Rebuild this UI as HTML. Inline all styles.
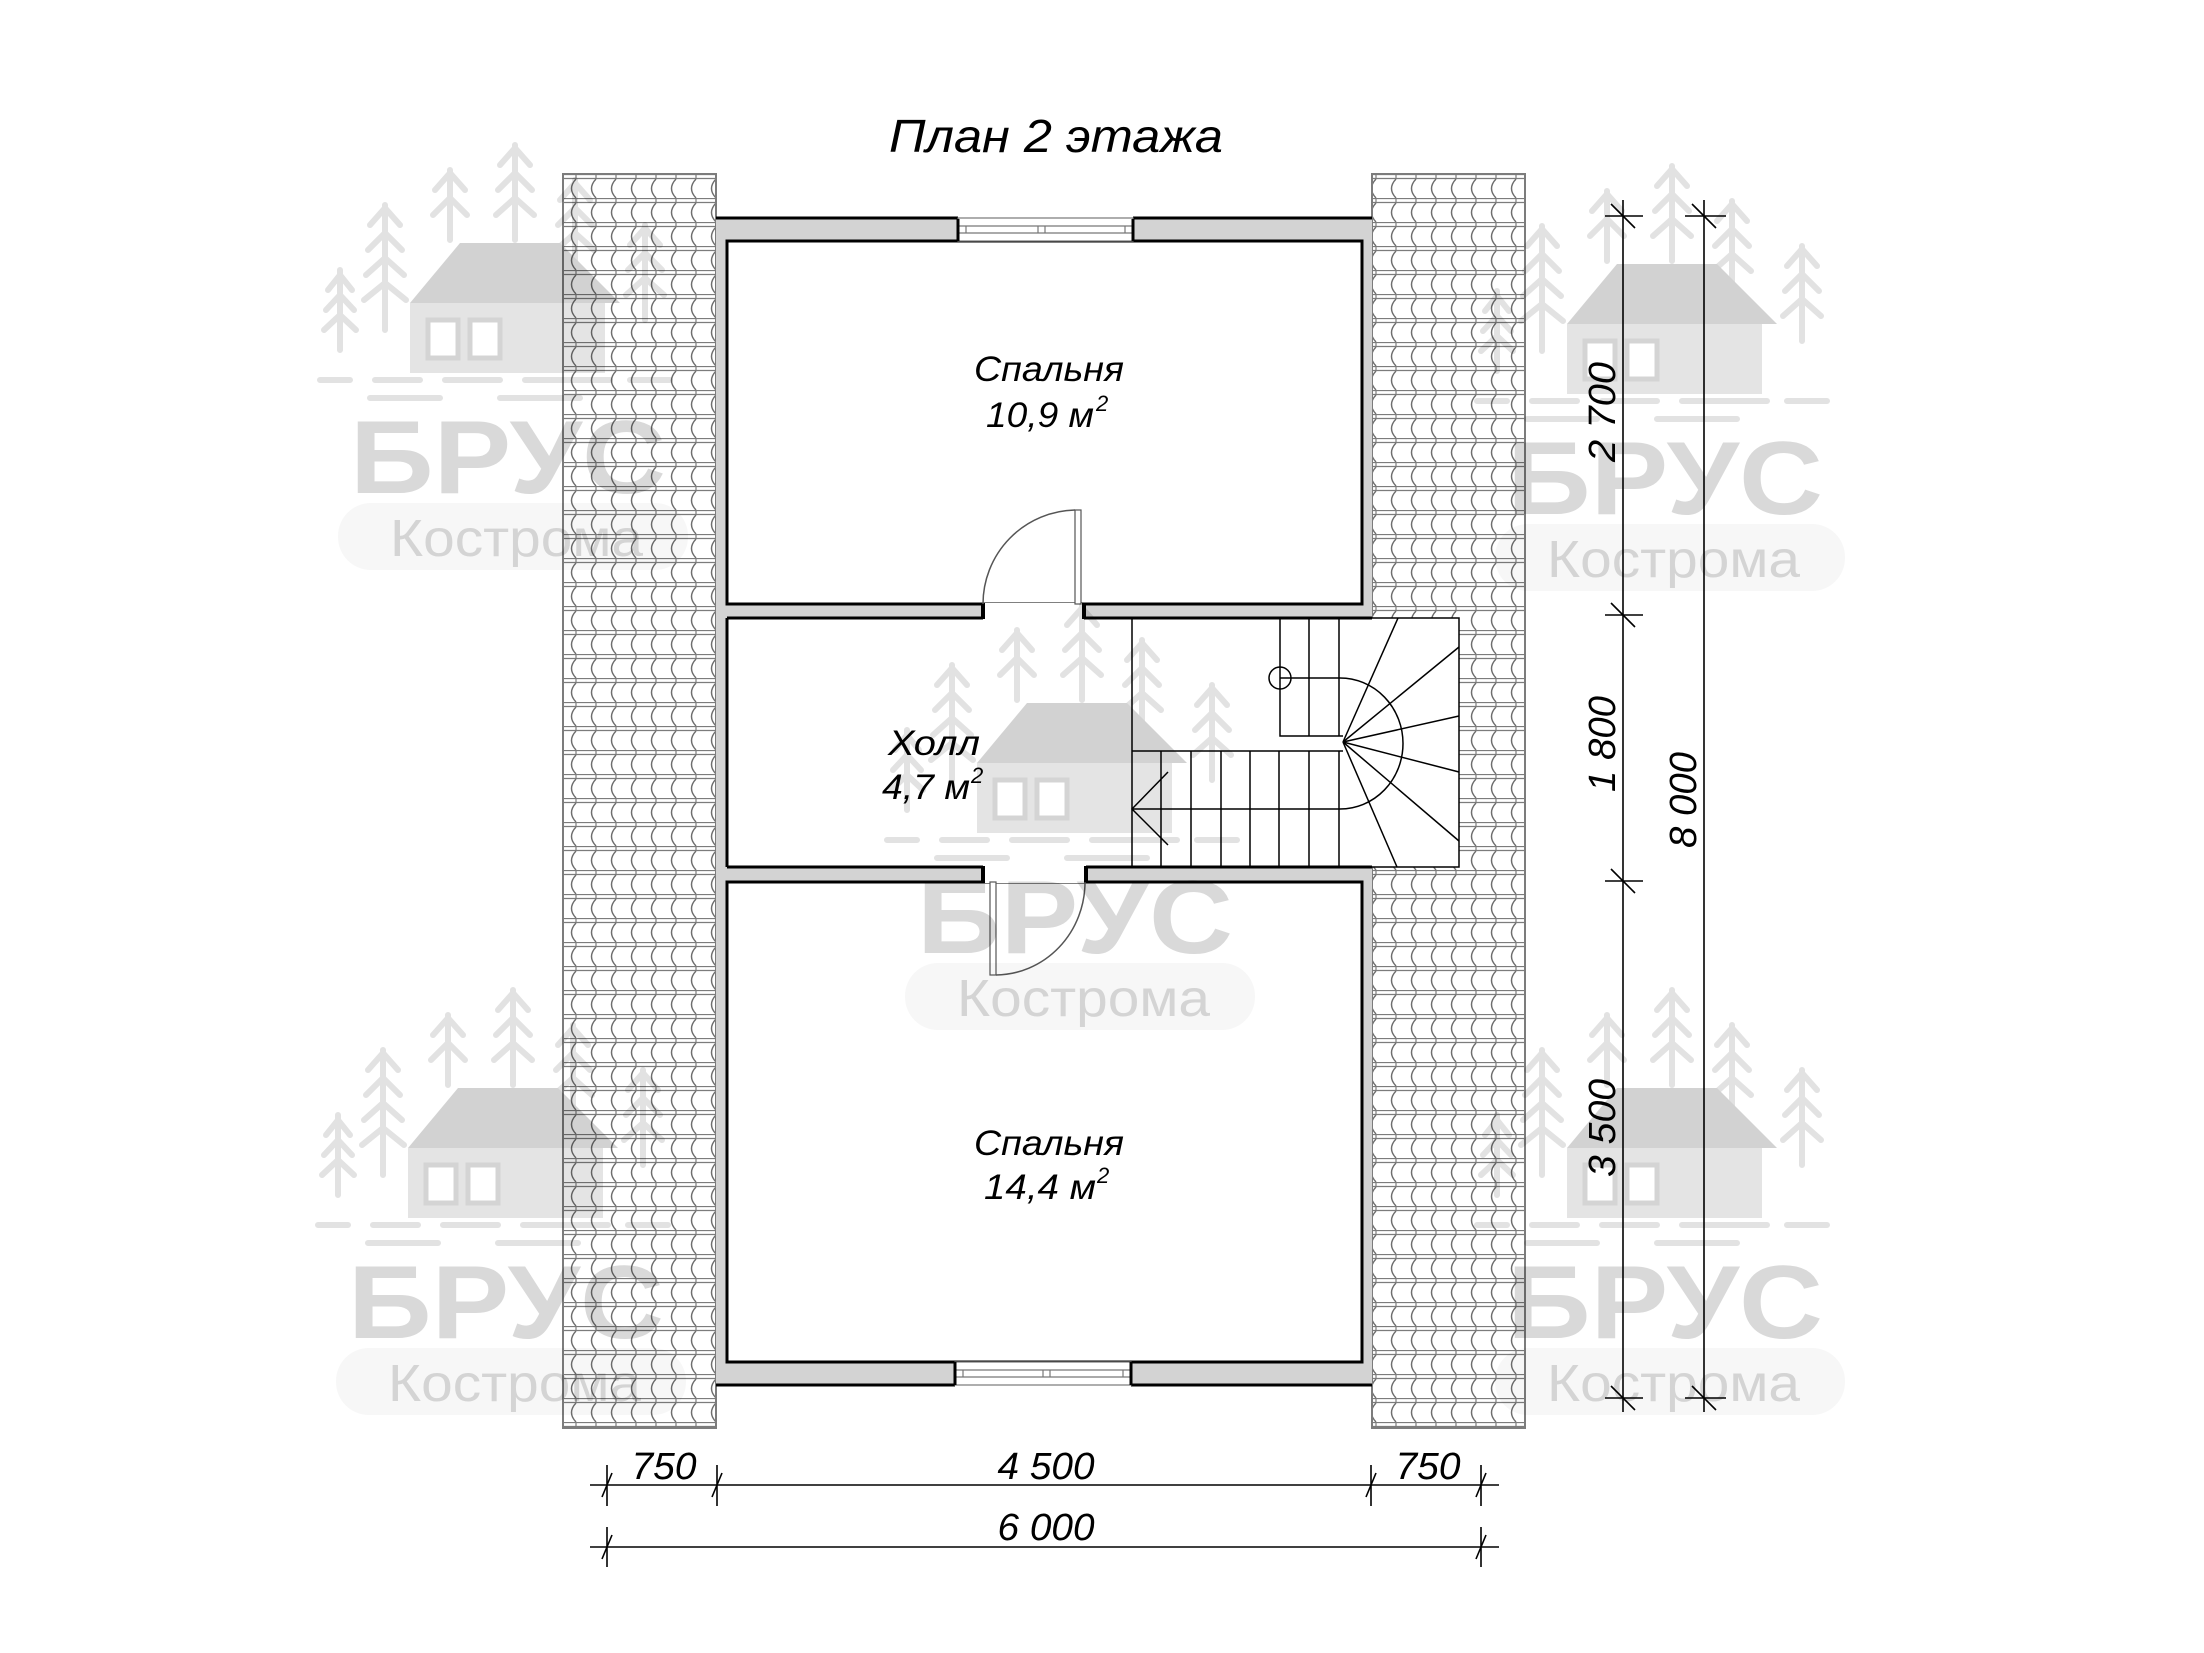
<!DOCTYPE html>
<html><head><meta charset="utf-8"><style>
html,body{margin:0;padding:0;background:#fff}
svg{display:block}
text{font-family:"Liberation Sans",sans-serif}
.wm{mix-blend-mode:multiply}
</style></head><body>
<svg width="2204" height="1653" viewBox="0 0 2204 1653" xmlns="http://www.w3.org/2000/svg">
<defs>
<pattern id="tile" x="563" y="174" width="20" height="24" patternUnits="userSpaceOnUse">
<rect width="20" height="24" fill="#fff"/>
<line x1="0" y1="0.5" x2="20" y2="0.5" stroke="#666" stroke-width="1.3"/>
<line x1="0" y1="4.5" x2="20" y2="4.5" stroke="#666" stroke-width="1.3"/>
<line x1="13" y1="0" x2="13" y2="5" stroke="#666" stroke-width="1.2"/>
<path d="M13 5 Q4 14.5 13 24" fill="none" stroke="#555" stroke-width="1.4"/>
</pattern>
<g id="logo">
<g fill="none" stroke="#e2e2e2" stroke-width="6" stroke-linecap="round">
<path d="M-10 -70 L-10 -150 M-22 -130 L-10 -145 L2 -130 M-24 -110 L-10 -125 L4 -110 M-26 -90 L-10 -105 L6 -90"/>
<path d="M35 -90 L35 -215 M20 -195 L35 -212 L50 -195 M18 -170 L35 -187 L52 -170 M16 -145 L35 -162 L54 -145 M14 -120 L35 -137 L56 -120"/>
<path d="M100 -180 L100 -250 M85 -230 L100 -247 L115 -230 M83 -205 L100 -222 L117 -205"/>
<path d="M165 -180 L165 -275 M150 -255 L165 -272 L180 -255 M148 -230 L165 -247 L182 -230 M146 -205 L165 -222 L184 -205"/>
<path d="M225 -140 L225 -240 M210 -220 L225 -237 L240 -220 M208 -195 L225 -212 L242 -195 M206 -170 L225 -187 L244 -170"/>
<path d="M295 -100 L295 -195 M280 -175 L295 -192 L310 -175 M278 -150 L295 -167 L312 -150 M276 -125 L295 -142 L314 -125"/>
<path d="M-30 -40 L0 -40 M25 -40 L70 -40 M95 -40 L150 -40 M175 -40 L260 -40 M280 -40 L320 -40 M20 -22 L90 -22 M150 -22 L230 -22"/>
</g>
<path d="M60 -117 L110 -177 L210 -177 L270 -117 Z" fill="#d2d2d2"/>
<rect x="60" y="-117" width="195" height="70" fill="#e4e4e4"/>
<rect x="78" y="-100" width="30" height="38" fill="#fff" stroke="#d4d4d4" stroke-width="5"/>
<rect x="120" y="-100" width="30" height="38" fill="#fff" stroke="#d4d4d4" stroke-width="5"/>
<rect x="-12" y="83" width="350" height="67" rx="33" fill="#f7f7f7"/>
<text x="0" y="73" font-size="104" font-weight="bold" textLength="316" lengthAdjust="spacingAndGlyphs" fill="#d9d9d9">БРУС</text>
<text x="40" y="136" font-size="52" textLength="253" lengthAdjust="spacingAndGlyphs" fill="#d4d4d4">Кострома</text>
</g>
</defs>

<!-- title -->
<text x="1056" y="152" font-size="46" font-style="italic" text-anchor="middle" textLength="334" lengthAdjust="spacingAndGlyphs">План 2 этажа</text>

<!-- roof strips -->
<rect x="563" y="174" width="153" height="1254" fill="url(#tile)" stroke="#666" stroke-width="2" opacity="0.85"/>
<rect x="1372" y="174" width="153" height="1254" fill="url(#tile)" stroke="#666" stroke-width="2" opacity="0.85"/>

<!-- outer walls gray -->
<rect x="716" y="218" width="656" height="1167" fill="#d3d3d3"/>
<rect x="727" y="241" width="635" height="363" fill="#fff" stroke="#000" stroke-width="3"/>
<rect x="727" y="618" width="645" height="249" fill="#fff" stroke="none"/>
<line x1="727" y1="618" x2="727" y2="867" stroke="#000" stroke-width="3"/>
<rect x="727" y="882" width="635" height="480" fill="#fff" stroke="#000" stroke-width="3"/>
<line x1="727" y1="618" x2="983" y2="618" stroke="#000" stroke-width="3"/>
<line x1="1084" y1="618" x2="1132" y2="618" stroke="#000" stroke-width="3"/>
<line x1="727" y1="867" x2="983" y2="867" stroke="#000" stroke-width="3"/>
<line x1="1086" y1="867" x2="1132" y2="867" stroke="#000" stroke-width="3"/>
<line x1="716" y1="218" x2="958" y2="218" stroke="#000" stroke-width="3"/>
<line x1="1133" y1="218" x2="1372" y2="218" stroke="#000" stroke-width="3"/>
<line x1="716" y1="1385" x2="955" y2="1385" stroke="#000" stroke-width="3"/>
<line x1="1131" y1="1385" x2="1372" y2="1385" stroke="#000" stroke-width="3"/>

<!-- windows -->
<g stroke="#777" stroke-width="1.2" fill="#fff">
<rect x="958" y="218" width="175" height="23"/>
<line x1="958" y1="226" x2="1133" y2="226"/><line x1="958" y1="233" x2="1133" y2="233"/>
<line x1="1045" y1="226" x2="1045" y2="233"/><line x1="1038" y1="226" x2="1038" y2="233"/>
<line x1="966" y1="226" x2="966" y2="233"/><line x1="1125" y1="226" x2="1125" y2="233"/>
<rect x="955" y="1362" width="176" height="23"/>
<line x1="955" y1="1370" x2="1131" y2="1370"/><line x1="955" y1="1377" x2="1131" y2="1377"/>
<line x1="1043" y1="1370" x2="1043" y2="1377"/><line x1="1050" y1="1370" x2="1050" y2="1377"/>
<line x1="963" y1="1370" x2="963" y2="1377"/><line x1="1123" y1="1370" x2="1123" y2="1377"/>
</g>
<line x1="958" y1="219" x2="958" y2="241" stroke="#000" stroke-width="3"/>
<line x1="1133" y1="219" x2="1133" y2="241" stroke="#000" stroke-width="3"/>
<line x1="955" y1="1362" x2="955" y2="1385" stroke="#000" stroke-width="3"/>
<line x1="1131" y1="1362" x2="1131" y2="1385" stroke="#000" stroke-width="3"/>

<!-- doors -->
<rect x="984" y="603" width="99" height="16" fill="#fff"/>
<line x1="983" y1="603" x2="983" y2="619" stroke="#000" stroke-width="4"/>
<line x1="1084" y1="603" x2="1084" y2="619" stroke="#000" stroke-width="4"/>
<rect x="1075" y="510" width="6" height="94" fill="#fff" stroke="#555" stroke-width="1.2"/>
<path d="M1075 510 A94 94 0 0 0 983 604" fill="none" stroke="#555" stroke-width="1.5"/>
<rect x="984" y="866" width="101" height="17" fill="#fff"/>
<line x1="983" y1="866" x2="983" y2="883" stroke="#000" stroke-width="4"/>
<line x1="1086" y1="866" x2="1086" y2="883" stroke="#000" stroke-width="4"/>
<rect x="990" y="882" width="6" height="93" fill="#fff" stroke="#555" stroke-width="1.2"/>
<path d="M996 975 A90 93 0 0 0 1085 882" fill="none" stroke="#555" stroke-width="1.5"/>

<!-- stair -->
<rect x="1132" y="618" width="327" height="249" fill="#fff" stroke="#000" stroke-width="1.5"/>
<line x1="1132" y1="618" x2="1372" y2="618" stroke="#000" stroke-width="3"/>
<line x1="1132" y1="867" x2="1372" y2="867" stroke="#000" stroke-width="3"/>
<g stroke="#000" stroke-width="1.5" fill="none">
<path d="M1280 618 L1280 736 L1343 736"/>
<line x1="1309" y1="618" x2="1309" y2="736"/>
<line x1="1339" y1="618" x2="1339" y2="736"/>
<line x1="1132" y1="751" x2="1343" y2="751"/>
<line x1="1161" y1="751" x2="1161" y2="867"/>
<line x1="1191" y1="751" x2="1191" y2="867"/>
<line x1="1221" y1="751" x2="1221" y2="867"/>
<line x1="1250" y1="751" x2="1250" y2="867"/>
<line x1="1279" y1="751" x2="1279" y2="867"/>
<line x1="1309" y1="751" x2="1309" y2="867"/>
<line x1="1339" y1="751" x2="1339" y2="867"/>
<circle cx="1280" cy="678" r="11"/>
<path d="M1280 678 L1340 678 A63 65.5 0 0 1 1340 809 L1132 809"/>
<path d="M1168 772 L1132 809 L1168 845"/>
<line x1="1343" y1="742" x2="1398" y2="618"/>
<line x1="1343" y1="742" x2="1459" y2="647"/>
<line x1="1343" y1="742" x2="1459" y2="716"/>
<line x1="1343" y1="742" x2="1459" y2="772"/>
<line x1="1343" y1="742" x2="1459" y2="841"/>
<line x1="1343" y1="742" x2="1397" y2="867"/>
</g>

<!-- room labels -->
<g font-size="35" font-style="italic" text-anchor="middle">
<text x="1049" y="381" textLength="150" lengthAdjust="spacingAndGlyphs">Спальня</text>
<text x="1040" y="427" textLength="108" lengthAdjust="spacingAndGlyphs">10,9 м</text>
<text x="1096" y="411" font-size="22" text-anchor="start">2</text>
<text x="934" y="755" textLength="92" lengthAdjust="spacingAndGlyphs">Холл</text>
<text x="926" y="799" textLength="88" lengthAdjust="spacingAndGlyphs">4,7 м</text>
<text x="971" y="783" font-size="22" text-anchor="start">2</text>
<text x="1049" y="1155" textLength="150" lengthAdjust="spacingAndGlyphs">Спальня</text>
<text x="1040" y="1199" textLength="112" lengthAdjust="spacingAndGlyphs">14,4 м</text>
<text x="1097" y="1183" font-size="22" text-anchor="start">2</text>
</g>

<!-- horizontal dims -->
<g stroke="#000" stroke-width="1.6">
<line x1="590" y1="1485" x2="1499" y2="1485"/>
<line x1="590" y1="1547" x2="1499" y2="1547"/>
<line x1="607" y1="1465" x2="607" y2="1506"/><line x1="717" y1="1465" x2="717" y2="1506"/>
<line x1="1371" y1="1465" x2="1371" y2="1506"/><line x1="1481" y1="1465" x2="1481" y2="1506"/>
<line x1="607" y1="1527" x2="607" y2="1567"/><line x1="1481" y1="1527" x2="1481" y2="1567"/>
<line x1="602" y1="1497" x2="612" y2="1473"/><line x1="712" y1="1497" x2="722" y2="1473"/>
<line x1="1366" y1="1497" x2="1376" y2="1473"/><line x1="1476" y1="1497" x2="1486" y2="1473"/>
<line x1="602" y1="1559" x2="612" y2="1535"/><line x1="1476" y1="1559" x2="1486" y2="1535"/>
</g>
<g font-size="38" font-style="italic" text-anchor="middle">
<text x="664" y="1479" textLength="65" lengthAdjust="spacingAndGlyphs">750</text>
<text x="1046" y="1479" textLength="97" lengthAdjust="spacingAndGlyphs">4 500</text>
<text x="1428" y="1479" textLength="65" lengthAdjust="spacingAndGlyphs">750</text>
<text x="1046" y="1540" textLength="97" lengthAdjust="spacingAndGlyphs">6 000</text>
</g>

<!-- vertical dims -->
<g stroke="#000" stroke-width="1.6">
<line x1="1623" y1="200" x2="1623" y2="1412"/>
<line x1="1704" y1="200" x2="1704" y2="1412"/>
<line x1="1605" y1="216" x2="1643" y2="216"/><line x1="1605" y1="615" x2="1643" y2="615"/>
<line x1="1605" y1="881" x2="1643" y2="881"/><line x1="1605" y1="1398" x2="1643" y2="1398"/>
<line x1="1685" y1="216" x2="1726" y2="216"/><line x1="1685" y1="1398" x2="1726" y2="1398"/>
<line x1="1611" y1="204" x2="1635" y2="228"/><line x1="1611" y1="603" x2="1635" y2="627"/>
<line x1="1611" y1="869" x2="1635" y2="893"/><line x1="1611" y1="1386" x2="1635" y2="1410"/>
<line x1="1692" y1="204" x2="1716" y2="228"/><line x1="1692" y1="1386" x2="1716" y2="1410"/>
</g>
<g font-size="38" font-style="italic" text-anchor="middle">
<text transform="translate(1615,412) rotate(-90)" textLength="100" lengthAdjust="spacingAndGlyphs">2 700</text>
<text transform="translate(1615,744) rotate(-90)" textLength="96" lengthAdjust="spacingAndGlyphs">1 800</text>
<text transform="translate(1615,1128) rotate(-90)" textLength="98" lengthAdjust="spacingAndGlyphs">3 500</text>
<text transform="translate(1696,800) rotate(-90)" textLength="96" lengthAdjust="spacingAndGlyphs">8 000</text>
</g>

<!-- watermarks on top -->
<g class="wm">
<use href="#logo" x="350" y="420"/>
<use href="#logo" x="1507" y="441"/>
<use href="#logo" x="917" y="880"/>
<use href="#logo" x="348" y="1265"/>
<use href="#logo" x="1507" y="1265"/>
</g>
</svg>
</body></html>
